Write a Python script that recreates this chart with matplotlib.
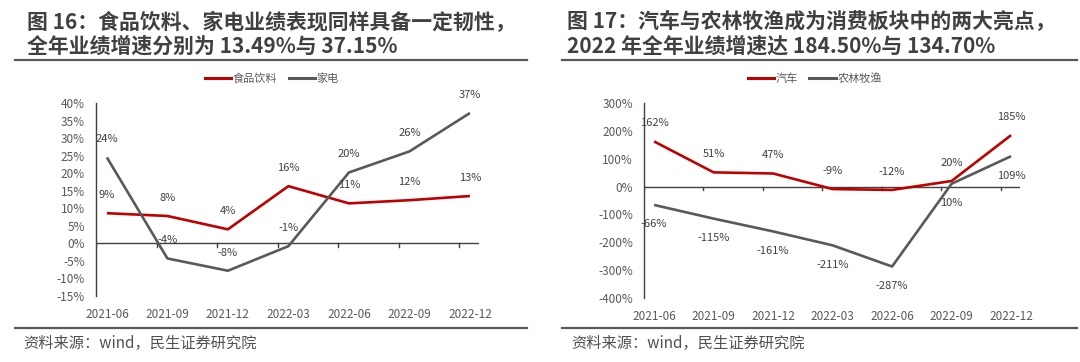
import matplotlib
matplotlib.use("Agg")
import matplotlib.pyplot as plt
from matplotlib.lines import Line2D

plt.rcParams['font.family'] = ['Noto Sans CJK SC', 'DejaVu Sans']

categories = ["2021-06", "2021-09", "2021-12", "2022-03", "2022-06", "2022-09", "2022-12"]

# Left chart
food = [8.6, 7.8, 4.0, 16.3, 11.4, 12.3, 13.49]
food_labels = ["9%", "8%", "4%", "16%", "11%", "12%", "13%"]
appliance = [24.5, -4.3, -7.8, -0.8, 20.2, 26.2, 37.15]
appliance_labels = ["24%", "-4%", "-8%", "-1%", "20%", "26%", "37%"]
left_yticks = [-15, -10, -5, 0, 5, 10, 15, 20, 25, 30, 35, 40]

# Right chart
auto = [162, 51, 47, -9, -12, 20, 184.5]
auto_labels = ["162%", "51%", "47%", "-9%", "-12%", "20%", "185%"]
agri = [-66, -115, -161, -211, -287, 10, 109]
agri_labels = ["-66%", "-115%", "-161%", "-211%", "-287%", "10%", "109%"]
right_yticks = [-400, -300, -200, -100, 0, 100, 200, 300]

RED = "#C00000"
GREY = "#595959"
TXT = "#404040"

fig = plt.figure(figsize=(10.8, 3.62), dpi=100)

def draw_panel(ax, s1, l1, s2, l2, name1, name2, yticks, off1, off2, x0, leg_x):
    x = list(range(len(categories)))
    ax.plot(x, s1, color=RED, lw=1.9, solid_capstyle='butt', zorder=3)
    ax.plot(x, s2, color=GREY, lw=1.9, solid_capstyle='butt', zorder=3)
    for xi, v, t in zip(x, s1, l1):
        ax.annotate(t, (xi, v), xytext=(0, off1), textcoords='offset points',
                    ha='center', va='center', fontsize=8, color=TXT, zorder=4)
    for xi, v, t in zip(x, s2, l2):
        ax.annotate(t, (xi, v), xytext=(0, off2), textcoords='offset points',
                    ha='center', va='center', fontsize=8, color=TXT, zorder=4)
    ax.set_xlim(x0, 6.15)
    ax.set_ylim(yticks[0], yticks[-1])
    ax.set_yticks(yticks)
    ax.set_yticklabels([f"{v}%" for v in yticks], fontsize=8.5, color=GREY)
    ax.tick_params(axis='y', length=0, pad=8)
    ax.set_xticks(x)
    ax.set_xticklabels(categories, fontsize=8.5, color=GREY)
    ax.tick_params(axis='x', length=0, pad=9)
    for s in ['top', 'right', 'bottom']:
        ax.spines[s].set_visible(False)
    ax.spines['left'].set_color(TXT)
    ax.spines['left'].set_linewidth(1.0)
    ax.axhline(0, color=TXT, lw=1.0, zorder=2)
    # small tick marks below the zero line
    yr = yticks[-1] - yticks[0]
    for xi in x:
        ax.plot([xi + x0, xi + x0], [0, -yr * 0.018], color=TXT, lw=1.0, zorder=2)
    handles = [Line2D([0], [0], color=RED, lw=2.2), Line2D([0], [0], color=GREY, lw=2.2)]
    ax.legend(handles, [name1, name2], loc='center', bbox_to_anchor=(leg_x / 1080, 1 - 79 / 362),
              bbox_transform=fig.transFigure,
              ncol=2, frameon=False, fontsize=8, handlelength=2.35, handletextpad=0.15,
              columnspacing=1.0, labelcolor=GREY, borderaxespad=0, borderpad=0)

axL = fig.add_axes([96 / 1080, 1 - 296 / 362, 383 / 1080, 193 / 362])
draw_panel(axL, food, food_labels, appliance, appliance_labels, "食品饮料", "家电",
           left_yticks, 13, 13, -0.18, 272)
axR = fig.add_axes([644 / 1080, 1 - 298 / 362, 376 / 1080, 195 / 362])
draw_panel(axR, auto, auto_labels, agri, agri_labels, "汽车", "农林牧渔",
           right_yticks, 13, -14, -0.17, 815)

# Titles
TS = 15
fig.text(27 / 1080, 1 - 22 / 362, "图 16：食品饮料、家电业绩表现同样具备一定韧性，", fontsize=TS,
         fontweight='bold', color=TXT, va='center', ha='left')
fig.text(27 / 1080, 1 - 46 / 362, "全年业绩增速分别为 13.49%与 37.15%", fontsize=TS,
         fontweight='bold', color=TXT, va='center', ha='left')
fig.text(567 / 1080, 1 - 22 / 362, "图 17：汽车与农林牧渔成为消费板块中的两大亮点，", fontsize=TS,
         fontweight='bold', color=TXT, va='center', ha='left')
fig.text(567 / 1080, 1 - 46 / 362, "2022 年全年业绩增速达 184.50%与 134.70%", fontsize=TS,
         fontweight='bold', color=TXT, va='center', ha='left')

# Separator lines
for (x0, x1) in [(15, 527), (562, 1077)]:
    fig.add_artist(Line2D([x0 / 1080, x1 / 1080], [1 - 60 / 362] * 2, color=GREY, lw=1.6))
    fig.add_artist(Line2D([x0 / 1080, x1 / 1080], [1 - 328 / 362] * 2, color=GREY, lw=1.6))

fig.text(23 / 1080, 1 - 343 / 362, "资料来源：wind，民生证券研究院", fontsize=11, color="#505050",
         va='center', ha='left')
fig.text(571 / 1080, 1 - 343 / 362, "资料来源：wind，民生证券研究院", fontsize=11, color="#505050",
         va='center', ha='left')

fig.savefig("out.png", dpi=100)
